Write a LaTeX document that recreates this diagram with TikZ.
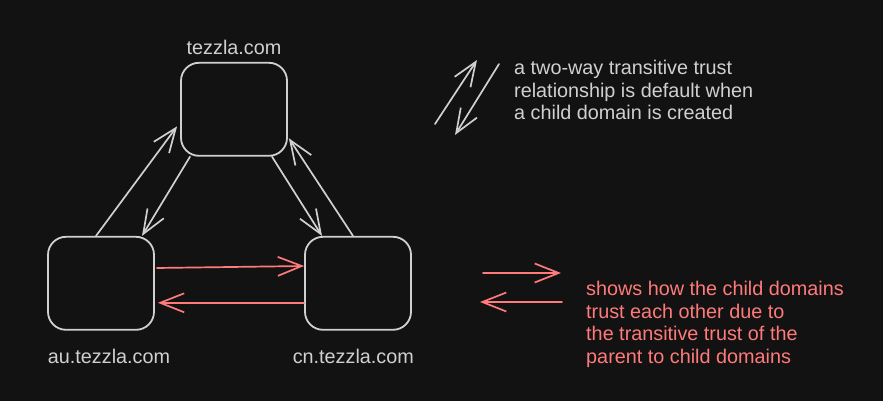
\documentclass[tikz,border=0pt]{standalone}
\usepackage{fontspec}
\setmainfont{Liberation Sans}
\usetikzlibrary{arrows.meta,positioning}

\definecolor{bgdark}{HTML}{121212}
\definecolor{linegray}{HTML}{D0D0D0}
\definecolor{trustred}{HTML}{FF7A7A}

\tikzset{
  domainbox/.style={draw=linegray, line width=1.8pt, rounded corners=18pt,
    minimum width=106pt, minimum height=93pt},
  dlabel/.style={text=linegray, font=\fontsize{19.8}{22.5}\selectfont},
  trust/.style={draw=linegray, line width=1.7pt, line cap=round,
    -{Straight Barb[length=24pt,width=19pt]}},
  redtrust/.style={trust, draw=trustred},
}

\begin{document}
\begin{tikzpicture}[x=1pt,y=-1pt]

\fill[bgdark] (0,0) rectangle (883,401);
\useasboundingbox (0,0) rectangle (883,401);

% domains
\node[domainbox] (tezzla) at (234,109.3) {};
\node[domainbox] (au) at (101,283.3) {};
\node[domainbox] (cn) at (358,283.3) {};

\node[dlabel, above=3.5pt of tezzla] (tezzlalbl) {tezzla.com};
\node[dlabel, below=15pt of au, xshift=8pt] (aulbl) {au.tezzla.com};
\node[dlabel, below=15pt of cn, xshift=-4.7pt] (cnlbl) {cn.tezzla.com};

% parent <-> child trusts
\draw[trust] ([xshift=-5pt]au.north) -- ([shift={(-3pt,-17pt)}]tezzla.west);
\draw[trust] ([xshift=-44pt]tezzla.south) -- ([xshift=41pt]au.north);
\draw[trust] ([xshift=38pt]tezzla.south) -- ([xshift=-36pt]cn.north);
\draw[trust] ([xshift=-5pt]cn.north) -- ([shift={(1pt,-29pt)}]tezzla.east);

% child <-> child (transitive)
\draw[redtrust] ([shift={(2pt,15.3pt)}]au.east) -- ([yshift=17.3pt]cn.west);
\draw[redtrust] ([yshift=-19.5pt]cn.west) -- ([shift={(3pt,-19.5pt)}]au.east);

% key
\coordinate (keyupS) at (435,124);
\coordinate (keyupE) at (477,60);
\coordinate (keydnS) at (499,64);
\coordinate (keydnE) at (455,135);
\coordinate (keyrtS) at (483,273);
\coordinate (keyrtE) at (561,273);
\coordinate (keyltS) at (562,302);
\coordinate (keyltE) at (480,302);

\draw[trust] (keyupS) -- (keyupE);
\draw[trust] (keydnS) -- (keydnE);
\draw[redtrust] (keyrtS) -- (keyrtE);
\draw[redtrust] (keyltS) -- (keyltE);

\node[dlabel, anchor=west, align=left] (graykey) at (510.7,90)
  {a two-way transitive trust\\relationship is default when\\a child domain is created};
\node[dlabel, text=trustred, anchor=west, align=left] (redkey) at (582.7,324.5)
  {shows how the child domains\\trust each other due to\\the transitive trust of the\\parent to child domains};

\end{tikzpicture}
\end{document}
